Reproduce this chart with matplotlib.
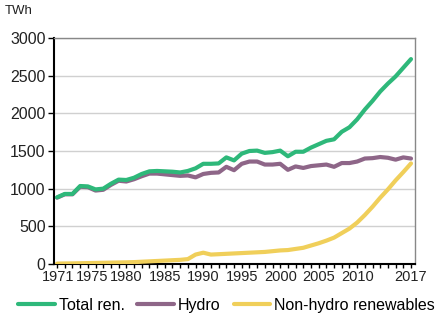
import numpy as np
import matplotlib.pyplot as plt
import matplotlib.transforms as mtransforms

plt.rcParams['font.family'] = ['Liberation Sans', 'DejaVu Sans']

years = np.arange(1971, 2018)

# TWh
total_ren = [885, 930, 930, 1035, 1030, 990, 1000, 1065, 1120, 1115,
             1145, 1195, 1230, 1235, 1230, 1225, 1215, 1235, 1270, 1330,
             1330, 1335, 1415, 1375, 1465, 1500, 1505, 1475, 1485, 1505,
             1430, 1490, 1490, 1545, 1590, 1635, 1655, 1755, 1815, 1920,
             2050, 2165, 2290, 2395, 2490, 2605, 2720]
hydro = [880, 925, 925, 1025, 1020, 975, 985, 1050, 1105, 1095,
         1125, 1165, 1200, 1200, 1190, 1180, 1170, 1175, 1150, 1195,
         1210, 1215, 1290, 1245, 1330, 1360, 1360, 1320, 1320, 1330,
         1250, 1295, 1275, 1300, 1310, 1320, 1290, 1340, 1340, 1360,
         1400, 1405, 1420, 1410, 1385, 1415, 1400]
non_hydro = [5, 7, 8, 10, 12, 14, 16, 18, 20, 22,
             25, 30, 35, 40, 45, 50, 55, 65, 125, 150,
             125, 130, 135, 140, 145, 150, 155, 160, 170, 180,
             185, 200, 215, 245, 275, 310, 350, 410, 470, 550,
             650, 760, 880, 990, 1110, 1220, 1335]

series_names = ['Total ren.', 'Hydro', 'Non-hydro renewables']
colors = ['#2eb87a', '#8e6688', '#f0cf5a']
xtick_years = [1971, 1975, 1980, 1985, 1990, 1995, 2000, 2005, 2010, 2017]
yticks = [0, 500, 1000, 1500, 2000, 2500, 3000]

fig = plt.figure(figsize=(4.48, 3.29), dpi=100)
ax = fig.add_axes([0.1205, 0.1976, 0.8055, 0.6869])

# non-hydro first so green/purple sit on top
ax.plot(years, non_hydro, color=colors[2], lw=3, solid_capstyle='round', label=series_names[2], zorder=3)
ax.plot(years, hydro, color=colors[1], lw=3, solid_capstyle='round', label=series_names[1], zorder=4)
ax.plot(years, total_ren, color=colors[0], lw=3, solid_capstyle='round', label=series_names[0], zorder=5)

ax.set_xlim(1970.6, 2017.5)
ax.set_ylim(0, 3000)
ax.set_yticks(yticks)
ax.set_xticks(xtick_years)
ax.set_xticks(years, minor=True)
ax.tick_params(axis='y', labelsize=11.5, colors='#222222', length=4, width=1, color='black', pad=2)
ax.tick_params(axis='x', which='both', labelsize=10.5, labelcolor='#222222',
               direction='out', length=3, width=1, color='black', pad=1.5)

# 1971 and 1975 sit close together, shift them right a little
lbls = ax.get_xticklabels()
lbls[0].set_transform(lbls[0].get_transform() + mtransforms.ScaledTranslation(1.5/100, 0, fig.dpi_scale_trans))
lbls[1].set_transform(lbls[1].get_transform() + mtransforms.ScaledTranslation(4.5/100, 0, fig.dpi_scale_trans))

ax.yaxis.grid(True, color='#d0d0d0', lw=1)
ax.set_axisbelow(True)
for s in ['top', 'right']:
    ax.spines[s].set_color('#888888')
    ax.spines[s].set_linewidth(1)
ax.spines['left'].set_color('black')
ax.spines['left'].set_linewidth(1.5)
ax.spines['bottom'].set_color('black')
ax.spines['bottom'].set_linewidth(1.5)

fig.text(0.011, 0.968, 'TWh', fontsize=9.5, color='#222222', va='center')

h, l = ax.get_legend_handles_labels()
order = [2, 1, 0]
fig.legend([h[i] for i in order], [l[i] for i in order], loc='center left',
           bbox_to_anchor=(0.04, 0.072), ncol=3, frameon=False, fontsize=11.5,
           handlelength=2.3, handletextpad=0.25, columnspacing=0.8,
           borderaxespad=0, borderpad=0)

fig.savefig('out.png', dpi=100)
